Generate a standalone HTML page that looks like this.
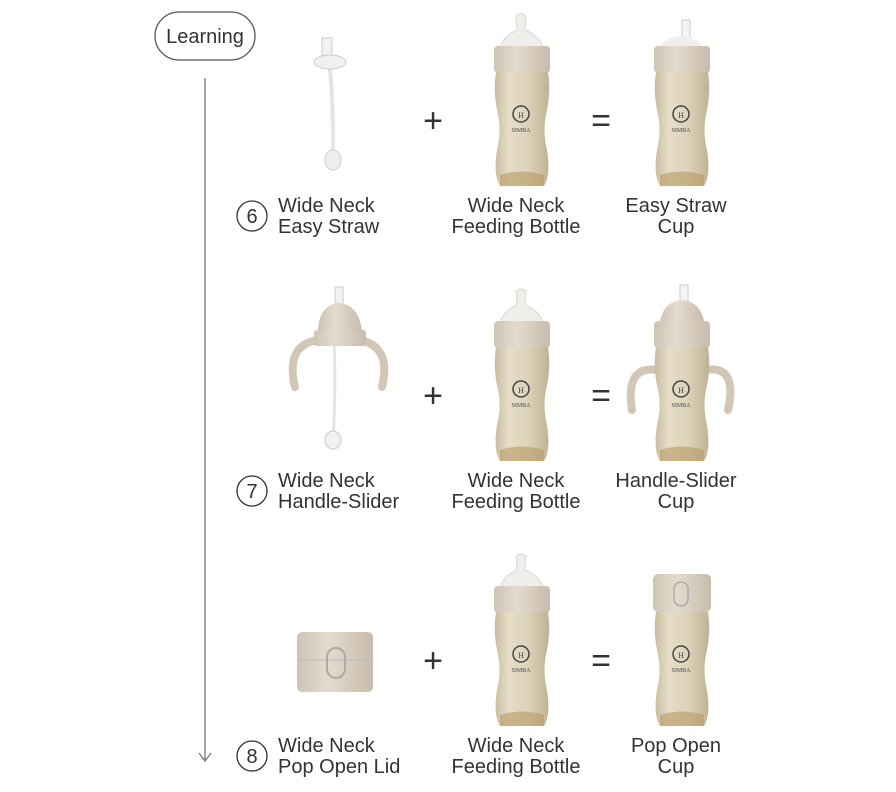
<!DOCTYPE html>
<html><head><meta charset="utf-8"><style>
html,body{margin:0;padding:0;background:#fff;}
body{width:896px;height:792px;position:relative;overflow:hidden;font-family:"Liberation Sans",sans-serif;}
</style></head><body>
<svg width="896" height="792" viewBox="0 0 896 792" xmlns="http://www.w3.org/2000/svg" style="position:absolute;left:0;top:0">
<defs>
<linearGradient id="bg" x1="0" x2="1" y1="0" y2="0">
<stop offset="0" stop-color="#c9bd9f"/><stop offset="0.25" stop-color="#e6ddc8"/><stop offset="0.6" stop-color="#ddd3ba"/><stop offset="1" stop-color="#bfb294"/></linearGradient>
<linearGradient id="cg" x1="0" x2="1"><stop offset="0" stop-color="#cfc4b4"/><stop offset="0.4" stop-color="#e4dbcf"/><stop offset="1" stop-color="#c8bcab"/></linearGradient>
<g id="body">
<path d="M496 72 L548 72 Q551 90 547 110 Q542 130 547 150 Q551 175 544 186 L500 186 Q493 175 497 150 Q502 130 497 110 Q493 90 496 72Z" fill="url(#bg)"/>
<path d="M500 175 Q521 168 544 175 L544 186 L500 186Z" fill="#b89a62" opacity="0.6"/>
<circle cx="521" cy="114" r="8" fill="none" stroke="#444" stroke-width="1.5"/>
<text x="521" y="118" font-size="8" text-anchor="middle" fill="#444" font-family="Liberation Serif">H</text>
<text x="521" y="132" font-size="6" text-anchor="middle" fill="#444" font-family="Liberation Serif">SIMBA</text>
</g>
<g id="bottle">
<path d="M516 16 Q521 12 526 16 L525 30 Q540 36 543 48 L500 48 Q503 36 517 30Z" fill="#eeeeea" stroke="#d8d8d4"/>
<rect x="494" y="46" width="56" height="27" rx="4" fill="url(#cg)"/>
<use href="#body"/>
</g>
</defs>

<!-- Learning pill and arrow -->
<rect x="155" y="12" width="100" height="48" rx="24" fill="#fff" stroke="#555" stroke-width="1.3"/>
<text x="205" y="43" font-size="20" text-anchor="middle" fill="#333">Learning</text>
<line x1="205" y1="78" x2="205" y2="760" stroke="#777" stroke-width="1.3"/>
<path d="M199 753 L205 761 L211 753" fill="none" stroke="#777" stroke-width="1.3"/>

<!-- Row 1 -->
<g>
<path d="M328 50 Q334 100 333 160" stroke="#e4e4e4" stroke-width="4" fill="none"/>
<rect x="322" y="38" width="10" height="20" fill="#f2f2f2" stroke="#ccc"/>
<ellipse cx="330" cy="62" rx="16" ry="7" fill="#f0f0f0" stroke="#ccc"/>
<ellipse cx="333" cy="160" rx="8" ry="10" fill="#eee" stroke="#ccc"/>
<use href="#bottle"/>
<g transform="translate(160,0)">
<rect x="522" y="20" width="8" height="30" fill="#f4f4f4" stroke="#ccc"/>
<path d="M500 48 Q503 38 521 36 Q540 38 543 48Z" fill="#eeeeea"/>
<rect x="494" y="46" width="56" height="27" rx="4" fill="url(#cg)"/>
<use href="#body"/>
</g>
</g>
<g transform="translate(0,275)">
<path d="M334 60 Q336 120 333 165" stroke="#e4e4e4" stroke-width="3" fill="none"/>
<path d="M318 65 Q285 70 295 112" stroke="#d2c6b6" stroke-width="8" fill="none" stroke-linecap="round"/>
<path d="M358 65 Q392 70 382 112" stroke="#d2c6b6" stroke-width="8" fill="none" stroke-linecap="round"/>
<rect x="335" y="12" width="8" height="25" fill="#f2f2f2" stroke="#ccc"/>
<path d="M318 58 Q318 30 339 28 Q360 30 362 58Z" fill="url(#cg)"/>
<rect x="314" y="55" width="52" height="16" rx="3" fill="url(#cg)"/>
<ellipse cx="333" cy="165" rx="8" ry="9" fill="#f0f0f0" stroke="#ccc"/>
<use href="#bottle"/>
<g transform="translate(160,0)">
<path d="M497 95 Q465 90 472 135" stroke="#d2c6b6" stroke-width="8" fill="none" stroke-linecap="round"/>
<path d="M546 95 Q578 90 568 135" stroke="#d2c6b6" stroke-width="8" fill="none" stroke-linecap="round"/>
<rect x="520" y="10" width="8" height="25" fill="#f4f4f4" stroke="#ccc"/>
<path d="M499 55 Q500 27 522 25 Q544 27 545 55Z" fill="url(#cg)"/>
<rect x="494" y="46" width="56" height="27" rx="4" fill="url(#cg)"/>
<use href="#body"/>
</g>
</g>
<g transform="translate(0,540)">
<rect x="297" y="92" width="76" height="60" rx="5" fill="url(#cg)"/>
<line x1="297" y1="120" x2="373" y2="120" stroke="#bbb"/>
<rect x="327" y="108" width="18" height="30" rx="9" fill="none" stroke="#aaa" stroke-width="2"/>
<use href="#bottle"/>
<g transform="translate(160,0)">
<rect x="493" y="34" width="58" height="38" rx="5" fill="url(#cg)"/>
<rect x="514" y="42" width="14" height="24" rx="7" fill="none" stroke="#aaa" stroke-width="1.5"/>
<use href="#body"/>
</g>
</g>

<!-- operators -->
<g font-size="34" fill="#333" text-anchor="middle">
<text x="433" y="132">+</text><text x="601" y="132">=</text>
<text x="433" y="407">+</text><text x="601" y="407">=</text>
<text x="433" y="672">+</text><text x="601" y="672">=</text>
</g>

<!-- labels -->
<g font-size="20" fill="#333">
<circle cx="252" cy="216" r="15" fill="none" stroke="#333" stroke-width="1.3"/><text x="252" y="223" text-anchor="middle">6</text>
<text x="278" y="212">Wide Neck</text><text x="278" y="233">Easy Straw</text>
<text x="516" y="212" text-anchor="middle">Wide Neck</text><text x="516" y="233" text-anchor="middle">Feeding Bottle</text>
<text x="676" y="212" text-anchor="middle">Easy Straw</text><text x="676" y="233" text-anchor="middle">Cup</text>

<circle cx="252" cy="491" r="15" fill="none" stroke="#333" stroke-width="1.3"/><text x="252" y="498" text-anchor="middle">7</text>
<text x="278" y="487">Wide Neck</text><text x="278" y="508">Handle-Slider</text>
<text x="516" y="487" text-anchor="middle">Wide Neck</text><text x="516" y="508" text-anchor="middle">Feeding Bottle</text>
<text x="676" y="487" text-anchor="middle">Handle-Slider</text><text x="676" y="508" text-anchor="middle">Cup</text>

<circle cx="252" cy="756" r="15" fill="none" stroke="#333" stroke-width="1.3"/><text x="252" y="763" text-anchor="middle">8</text>
<text x="278" y="752">Wide Neck</text><text x="278" y="773">Pop Open Lid</text>
<text x="516" y="752" text-anchor="middle">Wide Neck</text><text x="516" y="773" text-anchor="middle">Feeding Bottle</text>
<text x="676" y="752" text-anchor="middle">Pop Open</text><text x="676" y="773" text-anchor="middle">Cup</text>
</g>
</svg>
</body></html>
